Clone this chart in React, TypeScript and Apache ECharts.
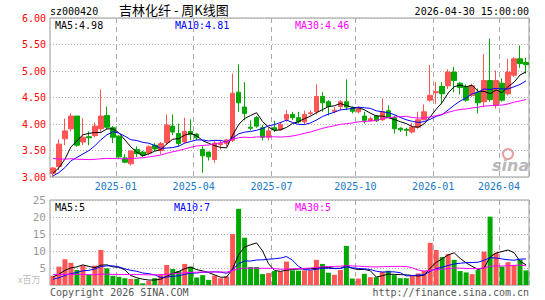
import React, { useEffect, useRef } from "react";
import * as echarts from "echarts";

const dates = [
  "2024-10-25","2024-11-01","2024-11-08","2024-11-15","2024-11-22","2024-11-29","2024-12-06","2024-12-13","2024-12-20","2024-12-27",
  "2024-12-31","2025-01-03","2025-01-10","2025-01-17","2025-01-24","2025-01-27","2025-02-07","2025-02-14","2025-02-21","2025-02-28",
  "2025-03-07","2025-03-14","2025-03-21","2025-03-28","2025-04-03","2025-04-11","2025-04-18","2025-04-25","2025-04-30","2025-05-09",
  "2025-05-16","2025-05-23","2025-05-30","2025-06-06","2025-06-13","2025-06-20","2025-06-27","2025-07-04","2025-07-11","2025-07-18",
  "2025-07-25","2025-08-01","2025-08-08","2025-08-15","2025-08-22","2025-08-29","2025-09-05","2025-09-12","2025-09-19","2025-09-26",
  "2025-09-30","2025-10-10","2025-10-17","2025-10-24","2025-10-31","2025-11-07","2025-11-14","2025-11-21","2025-11-28","2025-12-05",
  "2025-12-12","2025-12-19","2025-12-26","2025-12-31","2026-01-09","2026-01-16","2026-01-23","2026-01-30","2026-02-06","2026-02-13",
  "2026-02-27","2026-03-06","2026-03-13","2026-03-20","2026-03-27","2026-04-03","2026-04-10","2026-04-17","2026-04-24","2026-04-30",
];

const openP = [
  3.07,3.20,3.72,3.91,4.15,3.66,3.76,3.78,3.91,4.16,
  3.93,3.77,3.36,3.25,3.52,3.47,3.45,3.60,3.50,3.65,
  3.96,3.82,3.66,3.86,3.81,3.52,3.47,3.33,3.61,3.63,
  3.69,4.60,4.32,3.94,4.12,3.93,3.75,3.93,3.89,4.09,
  4.18,4.12,4.04,4.20,4.23,4.52,4.42,4.24,4.33,4.42,
  4.30,4.23,4.15,4.06,4.15,4.08,4.25,4.12,3.92,3.90,
  3.85,3.94,4.08,4.45,4.59,4.71,4.72,4.98,4.77,4.70,
  4.54,4.60,4.42,4.82,4.35,4.77,4.57,4.92,5.23,5.16,
];
const closeP = [
  3.17,3.62,3.87,4.15,3.60,3.75,3.74,3.96,4.15,3.94,
  3.75,3.38,3.28,3.49,3.44,3.41,3.57,3.53,3.63,3.98,
  3.85,3.63,3.86,3.80,3.74,3.40,3.38,3.64,3.63,3.70,
  4.58,4.40,4.20,3.92,3.96,3.75,3.87,3.89,3.99,4.18,
  4.12,4.04,4.18,4.21,4.52,4.40,4.33,4.26,4.42,4.32,
  4.24,4.29,4.07,4.10,4.06,4.23,4.13,3.91,3.89,3.88,
  3.94,4.08,4.23,4.54,4.61,4.57,4.98,4.82,4.69,4.45,
  4.72,4.40,4.82,4.46,4.82,4.45,4.98,5.23,5.14,5.12,
];
const lowP = [
  3.00,3.13,3.60,3.86,3.57,3.60,3.60,3.75,3.85,3.90,
  3.64,3.35,3.26,3.22,3.38,3.38,3.41,3.49,3.43,3.60,
  3.79,3.58,3.63,3.69,3.69,3.08,3.31,3.27,3.52,3.57,
  3.66,4.23,4.07,3.88,3.93,3.69,3.69,3.85,3.87,4.04,
  4.07,4.01,3.98,4.16,4.18,4.23,4.16,4.20,4.26,4.26,
  4.20,4.20,4.01,4.04,4.04,4.06,4.12,3.82,3.85,3.77,
  3.82,3.91,4.07,4.42,4.38,4.37,4.66,4.60,4.56,4.42,
  4.51,4.20,4.32,4.42,4.29,4.42,4.54,4.89,5.06,4.95,
];
const highP = [
  3.19,3.71,4.10,4.20,4.15,4.11,3.86,4.03,4.65,4.33,
  3.96,3.79,3.43,3.50,3.58,3.49,3.60,3.64,3.66,4.18,
  4.18,4.01,4.12,4.09,3.82,3.58,3.48,3.68,3.69,3.72,
  4.95,5.13,4.79,4.07,4.15,3.98,3.93,4.06,4.04,4.26,
  4.23,4.23,4.25,4.26,4.75,4.60,4.45,4.32,4.45,4.84,
  4.33,4.33,4.23,4.14,4.17,4.48,4.35,4.16,3.94,3.93,
  4.02,4.23,4.37,5.11,4.79,4.79,5.03,5.08,4.79,4.75,
  4.76,4.67,5.32,5.61,5.01,4.86,5.23,5.26,5.48,5.25,
];
// weekly volume, millions of shares
const volume = [
  2.7,5.4,7.6,6.5,4.4,5.7,3.1,5.7,10.3,4.9,
  2.7,2.4,2.0,1.8,1.8,0.5,1.2,2.0,3.1,5.9,
  4.7,4.1,6.2,5.4,2.2,2.9,1.5,2.8,2.0,2.5,
  15.0,22.4,13.9,5.3,5.3,3.2,3.5,4.1,4.0,6.9,
  4.3,4.2,4.3,4.3,7.4,6.2,3.6,3.0,4.4,11.5,
  1.9,1.9,3.3,2.3,2.3,3.9,4.2,2.9,2.0,2.0,
  2.9,3.4,4.2,12.4,10.3,8.2,9.1,7.4,4.1,3.7,
  3.2,4.4,9.8,20.1,9.5,5.4,6.7,5.9,7.4,4.3,
];
// estimated weeks before the first visible candle (for moving averages)
const priorCloses = [
  3.95,3.90,3.92,3.88,3.85,3.86,3.80,3.82,3.78,3.75,
  3.50,3.40,3.30,3.25,3.15,3.10,3.05,3.02,3.00,3.00,
  2.98,2.92,2.88,2.97,3.10,3.10,3.05,3.00,3.03,
];
const priorVolumes = [
  6.5,5.8,6.0,5.2,5.5,6.2,5.0,5.4,5.3,5.4,
  2.5,2.2,2.4,1.8,2.0,1.9,2.1,1.6,1.7,1.5,
  1.0,0.9,1.1,0.8,1.2,1.5,2.0,2.8,3.0,
];
const yPriceTicks = { min: 3, max: 6, interval: 0.5 };
const yVolTicks = { min: 0, max: 25, interval: 5 };

const RED = "#ff5555";
const GREEN = "#00a800";
const MONO = "DejaVu Sans Mono, monospace";

function movingAvg(prior: number[], vals: number[], n: number) {
  const all = prior.concat(vals);
  return vals.map((_, i) => {
    const end = prior.length + i;
    let s = 0;
    for (let k = end - n + 1; k <= end; k++) s += all[k];
    return +(s / n).toFixed(4);
  });
}

function isQuarterStart(i: number) {
  if (i <= 0) return false;
  const m = dates[i].slice(0, 7);
  if (m === dates[i - 1].slice(0, 7)) return false;
  return ["01", "04", "07", "10"].includes(dates[i].slice(5, 7));
}

export default function App() {
  const ref = useRef<HTMLDivElement>(null);
  useEffect(() => {
    if (!ref.current) return;
    const chart = echarts.init(ref.current, undefined, { renderer: "svg" });
    const ma5 = movingAvg(priorCloses, closeP, 5);
    const ma10 = movingAvg(priorCloses, closeP, 10);
    const ma30 = movingAvg(priorCloses, closeP, 30);
    const vma5 = movingAvg(priorVolumes, volume, 5);
    const vma10 = movingAvg(priorVolumes, volume, 10);
    const vma30 = movingAvg(priorVolumes, volume, 30);
    const last = dates.length - 1;
    const candle = dates.map((_, i) => [openP[i], closeP[i], lowP[i], highP[i]]);
    const volData = volume.map((v, i) => ({
      value: v,
      itemStyle: { color: closeP[i] >= openP[i] ? RED : GREEN },
    }));

    const splitX = {
      show: true,
      interval: (i: number) => isQuarterStart(i),
      lineStyle: { color: "#aaa", type: [5, 4], width: 1 },
    };
    const splitY = { show: true, lineStyle: { color: "#b0b0b0", type: [1, 2], width: 1 } };

    const lineS = (data: number[], color: string, x: number) => ({
      type: "line",
      data,
      xAxisIndex: x,
      yAxisIndex: x,
      showSymbol: false,
      symbol: "none",
      lineStyle: { color, width: 1 },
      z: 3,
    });

    chart.setOption({
      animation: false,
      backgroundColor: "#fff",
      grid: [
        { left: 50, top: 18, width: 479, height: 159, show: true, borderColor: "#999", borderWidth: 1, backgroundColor: "transparent" },
        { left: 50, top: 200, width: 479, height: 85, show: true, borderColor: "#999", borderWidth: 1, backgroundColor: "transparent" },
      ],
      xAxis: [
        {
          type: "category", gridIndex: 0, data: dates, boundaryGap: true,
          axisLine: { show: false }, axisTick: { show: false },
          axisLabel: {
            interval: (i: number) => isQuarterStart(i),
            formatter: (v: string) => `{a|${v.slice(0, 7)}}`,
            margin: 4,
            rich: { a: { color: "#1a78c8", fontFamily: MONO, fontSize: 10, padding: [0, 6, 0, 0] } },
          },
          splitLine: splitX,
        },
        {
          type: "category", gridIndex: 1, data: dates, boundaryGap: true,
          axisLine: { show: false }, axisTick: { show: false }, axisLabel: { show: false },
          splitLine: splitX,
        },
      ],
      yAxis: [
        {
          type: "value", gridIndex: 0, ...yPriceTicks,
          axisLine: { show: false }, axisTick: { show: false },
          axisLabel: { color: "#ff0000", fontFamily: MONO, fontSize: 10, margin: 4, formatter: (v: number) => v.toFixed(2) },
          splitLine: splitY,
        },
        {
          type: "value", gridIndex: 1, ...yVolTicks,
          axisLine: { show: false }, axisTick: { show: false },
          axisLabel: { color: "#999", fontFamily: MONO, fontSize: 11, margin: 4, formatter: (v: number) => (v === 0 ? "" : String(v)) },
          splitLine: splitY,
        },
      ],
      series: [
        {
          type: "candlestick", data: candle, xAxisIndex: 0, yAxisIndex: 0, barWidth: 5,
          itemStyle: { color: RED, color0: GREEN, borderColor: RED, borderColor0: GREEN, borderWidth: 1 },
          z: 2,
        },
        lineS(ma5, "#000000", 0),
        lineS(ma10, "#0000ff", 0),
        lineS(ma30, "#ff00ff", 0),
        { type: "bar", data: volData, xAxisIndex: 1, yAxisIndex: 1, barWidth: 5, z: 2 },
        lineS(vma5, "#000000", 1),
        lineS(vma10, "#0000ff", 1),
        lineS(vma30, "#ff00ff", 1),
      ],
      graphic: [
        { type: "text", left: 50, top: 6, style: { text: "sz000420", fill: "#000", font: `10px ${MONO}` } },
        { type: "text", left: 119, top: 3, style: { text: "吉林化纤 - 周K线图", fill: "#000", font: `13px "Noto Sans CJK SC"` } },
        { type: "text", right: 16, top: 6, style: { text: `${dates[last]} 15:00:00`, fill: "#000", font: `10px ${MONO}` } },
        { type: "text", left: 55, top: 20, style: { text: `MA5:${ma5[last].toFixed(2)}`, fill: "#000", font: `10px ${MONO}` } },
        { type: "text", left: 175, top: 20, style: { text: `MA10:${ma10[last].toFixed(2)}`, fill: "#0000ff", font: `10px ${MONO}` } },
        { type: "text", left: 295, top: 20, style: { text: `MA30:${ma30[last].toFixed(2)}`, fill: "#ff00ff", font: `10px ${MONO}` } },
        { type: "text", left: 55, top: 202, style: { text: `MA5:${Math.floor(vma5[last])}`, fill: "#000", font: `10px ${MONO}` } },
        { type: "text", left: 174, top: 202, style: { text: `MA10:${Math.floor(vma10[last])}`, fill: "#0000ff", font: `10px ${MONO}` } },
        { type: "text", left: 295, top: 202, style: { text: `MA30:${Math.floor(vma30[last])}`, fill: "#ff00ff", font: `10px ${MONO}` } },
        { type: "text", left: 18, top: 275, style: { text: "x百万", fill: "#bbb", font: `9px "Noto Sans CJK SC"` } },
        { type: "text", left: 50, top: 287, style: { text: "Copyright 2026 SINA.COM", fill: "#555", font: `10px ${MONO}` } },
        { type: "text", right: 16, top: 287, style: { text: "http://finance.sina.com.cn", fill: "#555", font: `10px ${MONO}` } },
        { type: "circle", shape: { cx: 508, cy: 154, r: 5 }, style: { fill: "none", stroke: "#e8a0a0", lineWidth: 2 }, silent: true },
        { type: "text", left: 492, top: 157, style: { text: "sina", fill: "#b8b8b8", font: `italic bold 16px "DejaVu Sans"` }, silent: true },
      ],
    });
    return () => chart.dispose();
  }, []);
  return <div ref={ref} style={{ position: "fixed", left: 0, top: 0, width: 545, height: 300 }} />;
}
